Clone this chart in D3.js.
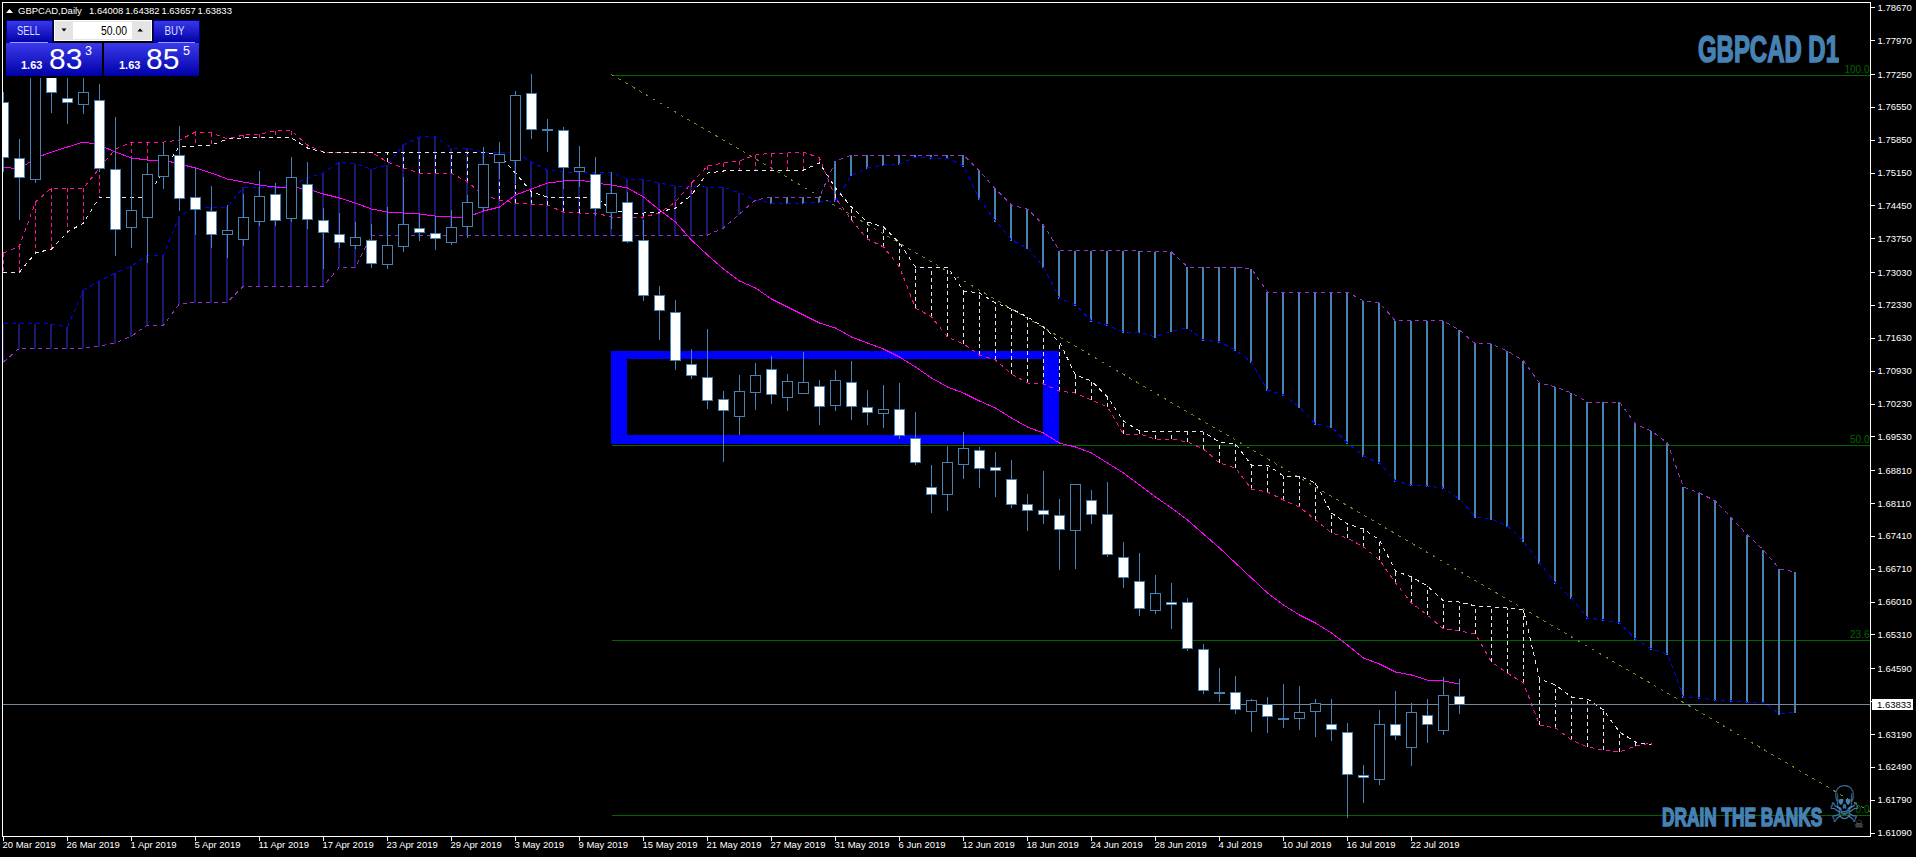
<!DOCTYPE html>
<html>
<head>
<meta charset="utf-8">
<title>GBPCAD D1</title>
<script src="https://cdnjs.cloudflare.com/ajax/libs/d3/7.9.0/d3.min.js"></script>
<style>
  html, body { margin: 0; padding: 0; background: #000; overflow: hidden; }
  svg { display: block; }
  text { font-family: "Liberation Sans", Arial, sans-serif; }
</style>
</head>
<body>
<div id="chart"></div>
<script>
/* DATA */
const dateLabels = ["20 Mar 2019","26 Mar 2019","1 Apr 2019","5 Apr 2019","11 Apr 2019","17 Apr 2019","23 Apr 2019","29 Apr 2019","3 May 2019","9 May 2019","15 May 2019","21 May 2019","27 May 2019","31 May 2019","6 Jun 2019","12 Jun 2019","18 Jun 2019","24 Jun 2019","28 Jun 2019","4 Jul 2019","10 Jul 2019","16 Jul 2019","22 Jul 2019"];
const priceTicks = [1.78670,1.77970,1.77250,1.76550,1.75850,1.75150,1.74450,1.73750,1.73030,1.72330,1.71630,1.70930,1.70230,1.69530,1.68810,1.68110,1.67410,1.66710,1.66010,1.65310,1.64590,1.63890,1.63190,1.62490,1.61790,1.61090];

const highs = [1.76877,1.75876,1.77665,1.77346,1.77303,1.77303,1.77048,1.76345,1.75471,1.75364,1.75790,1.76153,1.75279,1.74874,1.74469,1.74704,1.75194,1.74938,1.75492,1.75385,1.74406,1.74299,1.74107,1.74065,1.74427,1.75066,1.74278,1.74235,1.74363,1.74682,1.75705,1.75811,1.76899,1.77261,1.76302,1.76132,1.75726,1.75492,1.75172,1.74746,1.74150,1.72744,1.72446,1.71402,1.71828,1.70507,1.70848,1.71104,1.71253,1.70870,1.71338,1.70742,1.70955,1.71147,1.70528,1.70635,1.70678,1.70059,1.68930,1.69335,1.69633,1.69314,1.69207,1.69037,1.68313,1.68803,1.68206,1.68526,1.68398,1.68568,1.67290,1.67056,1.66587,1.66417,1.66098,1.65117,1.64606,1.64435,1.63945,1.63988,1.64265,1.64222,1.63945,1.63945,1.63434,1.62539,1.63711,1.64116,1.63860,1.63945,1.64414,1.64382];
const opens = [1.76664,1.75471,1.75023,1.77218,1.76750,1.76622,1.76707,1.75236,1.74001,1.74214,1.75087,1.75534,1.74640,1.74342,1.73852,1.73745,1.74129,1.74704,1.74193,1.74917,1.74150,1.73852,1.73617,1.73724,1.73213,1.73596,1.73980,1.73873,1.73681,1.74022,1.74427,1.75385,1.75428,1.76856,1.76089,1.76068,1.75194,1.75130,1.74320,1.74533,1.73724,1.72552,1.72190,1.71083,1.70806,1.70336,1.69974,1.70485,1.70976,1.70379,1.70464,1.70614,1.70208,1.70699,1.70166,1.70038,1.70123,1.69506,1.68462,1.68313,1.68952,1.69250,1.68888,1.68632,1.68100,1.67972,1.67865,1.67546,1.68185,1.67887,1.66971,1.66460,1.65842,1.66012,1.66012,1.65010,1.64094,1.64094,1.63690,1.63839,1.63541,1.63541,1.63690,1.63413,1.63242,1.62326,1.62241,1.63413,1.62923,1.63604,1.63285,1.64008];
const closes = [1.75492,1.75066,1.77389,1.76877,1.76664,1.76877,1.75258,1.73958,1.74363,1.75130,1.75534,1.74619,1.74384,1.73852,1.73937,1.74214,1.74661,1.74150,1.75066,1.74171,1.73894,1.73681,1.73788,1.73234,1.73617,1.74065,1.73894,1.73767,1.74001,1.74533,1.75343,1.75556,1.76813,1.76089,1.76068,1.75279,1.75279,1.74406,1.74725,1.73703,1.72552,1.72233,1.71168,1.70848,1.70315,1.70102,1.70507,1.70848,1.70443,1.70721,1.70699,1.70187,1.70742,1.70187,1.70059,1.70123,1.69569,1.68994,1.68313,1.68994,1.69293,1.68867,1.68824,1.68100,1.67972,1.67887,1.67567,1.68526,1.67887,1.67035,1.66545,1.65885,1.66204,1.65970,1.65032,1.64137,1.64094,1.63732,1.63924,1.63583,1.63541,1.63668,1.63860,1.63306,1.62348,1.62284,1.63413,1.63178,1.63668,1.63413,1.64030,1.63833];
const lows = [1.75194,1.74171,1.74959,1.76451,1.76217,1.76430,1.75194,1.73404,1.73575,1.73255,1.74832,1.74363,1.73852,1.73575,1.73362,1.73617,1.74043,1.74043,1.74129,1.73980,1.73128,1.73575,1.73554,1.73149,1.73128,1.73490,1.73724,1.73532,1.73639,1.73788,1.74363,1.75045,1.74938,1.75898,1.75620,1.74832,1.74874,1.74256,1.73980,1.73681,1.72446,1.71615,1.70976,1.70785,1.70145,1.69016,1.69591,1.70123,1.70251,1.70102,1.70464,1.69804,1.70102,1.69910,1.69804,1.69740,1.69506,1.68952,1.67929,1.67972,1.68654,1.68462,1.68270,1.68036,1.67546,1.67695,1.66715,1.66737,1.67695,1.66992,1.66332,1.65735,1.65778,1.65459,1.64989,1.64073,1.63903,1.63647,1.63264,1.63242,1.63349,1.63306,1.63157,1.63072,1.61432,1.61751,1.62135,1.63093,1.62539,1.63029,1.63200,1.63657];

// solid magenta average
const maLine = [1.75279,1.75236,1.75471,1.75598,1.75705,1.75811,1.75747,1.75598,1.75471,1.75428,1.75428,1.75343,1.75258,1.75151,1.75023,1.74959,1.74895,1.74853,1.74853,1.74810,1.74704,1.74619,1.74512,1.74384,1.74320,1.74299,1.74278,1.74235,1.74214,1.74214,1.74342,1.74427,1.74682,1.74810,1.74938,1.74981,1.75002,1.74938,1.74895,1.74832,1.74640,1.74363,1.74107,1.73724,1.73404,1.73106,1.72851,1.72702,1.72467,1.72297,1.72126,1.71956,1.71850,1.71658,1.71530,1.71402,1.71232,1.71019,1.70785,1.70593,1.70464,1.70294,1.70145,1.69932,1.69740,1.69612,1.69399,1.69314,1.69186,1.68973,1.68760,1.68504,1.68249,1.68015,1.67759,1.67461,1.67163,1.66843,1.66524,1.66204,1.65948,1.65735,1.65565,1.65352,1.65095,1.64819,1.64691,1.64520,1.64457,1.64350,1.64329,1.64265];

// inner cloud (pink / white edges)
const pinkLine = [1.73447,1.73596,1.74533,1.74832,1.74832,1.74832,1.75258,1.75662,1.75811,1.75811,1.75811,1.75854,1.76025,1.76004,1.75876,1.75961,1.75983,1.76047,1.76047,1.75747,1.75598,1.75598,1.75598,1.75598,1.75385,1.75258,1.75151,1.75151,1.75151,1.74959,1.74682,1.74576,1.74512,1.74491,1.74469,1.74320,1.74299,1.74299,1.74214,1.74214,1.74214,1.74299,1.74533,1.74938,1.75300,1.75364,1.75407,1.75534,1.75577,1.75577,1.75598,1.75471,1.74619,1.74150,1.73745,1.73575,1.73149,1.72276,1.72084,1.71658,1.71509,1.71274,1.71168,1.70870,1.70678,1.70657,1.70507,1.70464,1.70315,1.70166,1.69591,1.69591,1.69484,1.69484,1.69420,1.69271,1.68973,1.68867,1.68419,1.68355,1.68185,1.68036,1.67759,1.67482,1.67376,1.67184,1.66907,1.66417,1.65991,1.65735,1.65437,1.65395,1.65331,1.64733,1.64499,1.64286,1.63391,1.63328,1.63072,1.62923,1.62859,1.62816,1.62944,1.63008];
const whiteLine = [1.73021,1.73042,1.73447,1.73532,1.73894,1.74086,1.74640,1.74640,1.74640,1.74640,1.75215,1.75726,1.75726,1.75747,1.75876,1.75898,1.75898,1.75898,1.75898,1.75683,1.75598,1.75598,1.75598,1.75598,1.75598,1.75598,1.75598,1.75598,1.75598,1.75598,1.75598,1.75534,1.75151,1.74746,1.74640,1.74640,1.74640,1.74640,1.74363,1.74299,1.74299,1.74320,1.74406,1.74682,1.75151,1.75194,1.75215,1.75215,1.75215,1.75215,1.75215,1.75364,1.74832,1.74427,1.74107,1.74001,1.73660,1.73149,1.73149,1.73149,1.72638,1.72595,1.72382,1.72254,1.72084,1.71871,1.71551,1.70848,1.70721,1.70379,1.69868,1.69655,1.69655,1.69655,1.69655,1.69633,1.69420,1.69378,1.68930,1.68930,1.68696,1.68696,1.68547,1.67908,1.67674,1.67567,1.67333,1.66673,1.66545,1.66353,1.66034,1.66012,1.65927,1.65906,1.65885,1.65842,1.64371,1.64243,1.63988,1.63945,1.63711,1.63242,1.63029,1.62965];

// outer cloud (blue / purple edges)
const blueLine = [1.71935,1.71935,1.71935,1.71935,1.71871,1.72659,1.72851,1.73021,1.73170,1.73404,1.73404,1.74235,1.74427,1.74427,1.74427,1.74853,1.74853,1.74853,1.74895,1.75045,1.75151,1.75385,1.75343,1.75236,1.75321,1.75747,1.75919,1.75919,1.75683,1.75683,1.75598,1.75598,1.75598,1.75385,1.75215,1.75172,1.75172,1.75172,1.75172,1.75023,1.75023,1.74938,1.74874,1.74874,1.74853,1.74853,1.74725,1.74576,1.74512,1.74512,1.74512,1.74533,1.74555,1.75108,1.75258,1.75321,1.75343,1.75492,1.75471,1.75471,1.75300,1.74597,1.74129,1.73724,1.73554,1.73149,1.72489,1.72339,1.71999,1.71913,1.71764,1.71764,1.71658,1.71786,1.71850,1.71594,1.71551,1.71381,1.71125,1.70528,1.70422,1.70166,1.69804,1.69740,1.69399,1.69122,1.68973,1.68590,1.68504,1.68483,1.68440,1.68206,1.67823,1.67780,1.67631,1.67312,1.66843,1.66417,1.66098,1.65671,1.65629,1.65565,1.65224,1.65010,1.64904,1.63988,1.63967,1.63924,1.63903,1.63881,1.63881,1.63626,1.63668];
const purpleLine = [1.71125,1.71423,1.71423,1.71423,1.71423,1.71423,1.71466,1.71530,1.71679,1.71913,1.71913,1.72361,1.72403,1.72403,1.72403,1.72744,1.72744,1.72744,1.72744,1.72744,1.72744,1.73149,1.73149,1.73830,1.73830,1.73830,1.73830,1.73830,1.73830,1.73830,1.73830,1.73830,1.73830,1.73830,1.73830,1.73830,1.73830,1.73830,1.73830,1.73830,1.73830,1.73830,1.73830,1.73830,1.73830,1.73980,1.74278,1.74576,1.74640,1.74640,1.74640,1.74640,1.75407,1.75534,1.75534,1.75534,1.75534,1.75534,1.75534,1.75534,1.75534,1.75194,1.74810,1.74469,1.74384,1.74043,1.73490,1.73490,1.73490,1.73490,1.73490,1.73490,1.73469,1.73469,1.73149,1.73149,1.73149,1.73149,1.73106,1.72616,1.72616,1.72616,1.72616,1.72616,1.72616,1.72425,1.72382,1.71999,1.71999,1.71999,1.71999,1.71807,1.71509,1.71509,1.71360,1.71147,1.70678,1.70593,1.70464,1.70272,1.70272,1.70272,1.69804,1.69655,1.69399,1.68462,1.68334,1.68164,1.67801,1.67439,1.67120,1.66715,1.66651];

// fibonacci retracement and the blue zone (bar index, price)
const fibBars = [38, 117];
const fibPrices = [1.77250, 1.61474];
const fibLevels = [100, 50, 23.6, 0];
const zoneBars = [38, 66];
const zonePrices = [1.71360, 1.69378];

const bid = ["1.63", "83", "3"];
const ask = ["1.63", "85", "5"];
const lotSize = "50.00";
const headerText = "GBPCAD,Daily";
const headerOhlc = ["1.64008", "1.64382", "1.63657", "1.63833"];
const lastPrice = 1.63833;
/* END DATA */

const W = 1916, H = 857;
const frame = { left: 2.5, top: 2.5, right: 1870.5, bottom: 836.5 };
const steel = "#4682b4", navy = "#191970";

const svg = d3.select("#chart").append("svg").attr("width", W).attr("height", H);
svg.append("rect").attr("width", W).attr("height", H).attr("fill", "#000");

const defs = svg.append("defs");
defs.append("clipPath").attr("id", "plot").append("rect")
  .attr("x", frame.left).attr("y", frame.top)
  .attr("width", frame.right - frame.left).attr("height", frame.bottom - frame.top);

const grad = defs.append("linearGradient").attr("id", "btn").attr("x1", 0).attr("x2", 0).attr("y1", 0).attr("y2", 1);
grad.append("stop").attr("offset", "0%").attr("stop-color", "#3a3aec");
grad.append("stop").attr("offset", "100%").attr("stop-color", "#0000a8");

// Scales: one bar is 16px
const x = d3.scaleLinear().domain([0, 100]).range([3.5, 1603.5]);
const y = d3.scaleLinear().domain([1.7725, lastPrice]).range([74.5, 704.3]);
const px = v => Math.round(y(v));

const g = svg.append("g").attr("clip-path", "url(#plot)").attr("shape-rendering", "crispEdges");

// Blue zone
const zx0 = x(zoneBars[0]) - 0.5, zx1 = x(zoneBars[1]) - 0.5;
const zy0 = px(zonePrices[0]), zy1 = px(zonePrices[1]);
g.append("path")
  .attr("fill", "#0000ff").attr("fill-rule", "evenodd")
  .attr("d", `M${zx0},${zy0}H${zx1}V${zy1}H${zx0}Z M${zx0 + 16},${zy0 + 8}H${zx1 - 16}V${zy1 - 9}H${zx0 + 16}Z`);

// Fibo levels
const fibPrice = l => fibPrices[1] + (fibPrices[0] - fibPrices[1]) * l / 100;
g.selectAll(".fib").data(fibLevels).enter().append("line")
  .attr("x1", x(fibBars[0])).attr("x2", frame.right)
  .attr("y1", d => px(fibPrice(d)) + 0.5).attr("y2", d => px(fibPrice(d)) + 0.5)
  .attr("stroke", "#006400");
g.append("line")
  .attr("x1", x(fibBars[0])).attr("y1", y(fibPrices[0]))
  .attr("x2", x(fibBars[1])).attr("y2", y(fibPrices[1]))
  .attr("stroke", "#6b8e23").attr("stroke-dasharray", "3 5");

// Outer cloud bars
g.selectAll(".outer").data(blueLine).enter().append("rect")
  .attr("x", (d, i) => x(i) - 1.5)
  .attr("width", 2)
  .attr("y", (d, i) => Math.min(px(d), px(purpleLine[i])))
  .attr("height", (d, i) => Math.abs(px(d) - px(purpleLine[i])) + 1)
  .attr("fill", (d, i) => d > purpleLine[i] ? navy : steel);

// Inner cloud hatch
g.selectAll(".inner").data(pinkLine).enter().append("line")
  .attr("x1", (d, i) => x(i)).attr("x2", (d, i) => x(i))
  .attr("y1", d => y(d))
  .attr("y2", (d, i) => y(whiteLine[i]))
  .attr("stroke", (d, i) => d > whiteLine[i] ? "#ff1493" : "#e6e6e6")
  .attr("stroke-dasharray", "4 3");

// Indicator lines
const line = d3.line().x((d, i) => x(i)).y(d => y(d));
function drawLine(values, color, dash) {
  g.append("path").datum(values)
    .attr("fill", "none").attr("stroke", color).attr("stroke-width", 1)
    .attr("stroke-dasharray", dash)
    .attr("d", line);
}
drawLine(blueLine, "#0000ff", "4 4");
drawLine(purpleLine, "#9932cc", "4 4");
drawLine(pinkLine, "#ff1493", "4 4");
drawLine(whiteLine, "#e6e6e6", "4 4");
drawLine(maLine, "#ff00ff", null);

// Last price line
g.append("line")
  .attr("x1", frame.left).attr("x2", frame.right)
  .attr("y1", px(lastPrice) + 0.5).attr("y2", px(lastPrice) + 0.5)
  .attr("stroke", "#778899");

// Candles
const candles = g.selectAll(".candle").data(opens).enter().append("g");
candles.append("line")
  .attr("x1", (d, i) => x(i)).attr("x2", (d, i) => x(i))
  .attr("y1", (d, i) => px(highs[i]))
  .attr("y2", (d, i) => px(lows[i]) + 1)
  .attr("stroke", steel);
candles.append("rect")
  .attr("x", (d, i) => x(i) - 5)
  .attr("width", 10)
  .attr("y", (d, i) => Math.min(px(d), px(closes[i])) + 0.5)
  .attr("height", (d, i) => Math.max(Math.abs(px(d) - px(closes[i])), 1))
  .attr("fill", (d, i) => closes[i] < d ? "#fff" : "#000")
  .attr("stroke", steel);

// Axes
const frameG = svg.append("g").attr("shape-rendering", "crispEdges");
frameG.append("rect")
  .attr("x", frame.left).attr("y", frame.top)
  .attr("width", frame.right - frame.left).attr("height", frame.bottom - frame.top)
  .attr("fill", "none").attr("stroke", "#fff");

const axisY = svg.append("g")
  .attr("transform", `translate(${frame.right},0)`)
  .call(d3.axisRight(y).tickValues(priceTicks).tickFormat(d3.format(".5f")).tickSize(4).tickPadding(3).offset(0));
axisY.select(".domain").remove();

const axisX = svg.append("g")
  .attr("transform", `translate(0,${frame.bottom})`)
  .call(d3.axisBottom(x).tickValues(dateLabels.map((d, i) => i * 4)).tickFormat(i => dateLabels[i / 4]).tickSize(4).tickPadding(1).offset(0));
axisX.select(".domain").remove();
axisX.selectAll("text").attr("text-anchor", "start").attr("dx", "-1");

[axisY, axisX].forEach(a => {
  a.selectAll("line").attr("stroke", "#fff").attr("shape-rendering", "crispEdges");
  a.selectAll("text").attr("fill", "#fff").style("font-size", "9.5px").style("font-family", '"Liberation Sans"');
});

// Fibo labels
svg.selectAll(".fibLabel").data(fibLevels).enter().append("text")
  .attr("x", frame.right - 1).attr("y", d => px(fibPrice(d)) - 2)
  .attr("text-anchor", "end").attr("fill", "#006400")
  .style("font-size", "10px")
  .text(d => d.toFixed(1));

// Last price box
const lastBox = svg.append("g");
lastBox.append("rect")
  .attr("x", 1872).attr("y", px(lastPrice) - 5).attr("width", 41).attr("height", 11)
  .attr("fill", "#fff").attr("shape-rendering", "crispEdges");
lastBox.append("text")
  .attr("x", 1877).attr("y", px(lastPrice) + 3.5)
  .attr("fill", "#000").style("font-size", "9.5px")
  .text(d3.format(".5f")(lastPrice));

// Watermarks, squeezed sideways to look like the heavy poster font
function heavyText(txt, xPos, yPos, size, scaleX) {
  svg.append("text")
    .attr("transform", `translate(${xPos},${yPos}) scale(${scaleX},1)`)
    .attr("fill", steel).attr("stroke", steel).attr("stroke-width", 1.6)
    .style("font-size", size + "px").style("font-weight", "700")
    .text(txt);
}
heavyText("GBPCAD D1", 1698, 61.5, 36, 0.665);
heavyText("DRAIN THE BANKS", 1662, 825.5, 26, 0.665);
svg.append("text")
  .attr("transform", "translate(1844.5,822) scale(0.85,1.2)")
  .attr("text-anchor", "middle")
  .attr("fill", steel)
  .style("font-family", '"DejaVu Sans"').style("font-size", "42px")
  .text("\u2620");
svg.append("text")
  .attr("x", 1859).attr("y", 828).attr("text-anchor", "middle")
  .attr("fill", "#808080")
  .style("font-family", '"DejaVu Sans"').style("font-size", "11px")
  .text("\u2620");

// Header
const header = svg.append("g");
header.append("rect").attr("x", 4).attr("y", 4).attr("width", 230).attr("height", 14).attr("fill", "#000");
header.append("path").attr("d", "M6,13L13,13L9.5,9Z").attr("fill", "#fff");
header.append("text").attr("x", 18).attr("y", 13.5).attr("fill", "#fff").style("font-size", "9.5px").text(headerText);
header.selectAll(".ohlc").data(headerOhlc).enter().append("text")
  .attr("x", (d, i) => 89 + i * 36.2).attr("y", 13.5)
  .attr("fill", "#fff").style("font-size", "9.5px")
  .text(d => d);

// Trade panel
const panel = svg.append("g");
panel.append("rect").attr("x", 4).attr("y", 18).attr("width", 198).attr("height", 60).attr("fill", "#000");

function tradeButton(x0, width, label, labelX) {
  panel.append("rect").attr("x", x0).attr("y", 20).attr("width", width).attr("height", 23)
    .attr("fill", "url(#btn)").attr("stroke", "#00008c").attr("shape-rendering", "crispEdges");
  panel.append("line").attr("x1", x0 + 4).attr("x2", x0 + width - 4).attr("y1", 42.5).attr("y2", 42.5)
    .attr("stroke", "#9a9aff").attr("shape-rendering", "crispEdges");
  panel.append("text").attr("x", labelX).attr("y", 35)
    .attr("textLength", label.length === 4 ? 23 : 20).attr("lengthAdjust", "spacingAndGlyphs")
    .attr("fill", "#dcdcff").style("font-size", "12.5px")
    .text(label);
}
tradeButton(6, 46, "SELL", 17);
tradeButton(153.5, 45.5, "BUY", 164.5);

// lot box
panel.append("rect").attr("x", 54.5).attr("y", 20.5).attr("width", 97).attr("height", 20)
  .attr("fill", "#e4e4e4").attr("stroke", "#fff").attr("shape-rendering", "crispEdges");
panel.append("rect").attr("x", 73).attr("y", 22).attr("width", 59).attr("height", 17)
  .attr("fill", "#fff").attr("shape-rendering", "crispEdges");
panel.append("path").attr("d", "M61.5,28.5H66.5L64,31.5Z").attr("fill", "#000");
panel.append("path").attr("d", "M137.5,31.5H143L140,28.5Z").attr("fill", "#000");
panel.append("text").attr("x", 101).attr("y", 34.5)
  .attr("textLength", 26).attr("lengthAdjust", "spacingAndGlyphs")
  .attr("fill", "#000").style("font-size", "12.5px")
  .text(lotSize);

function quoteBox(x0, width, q, xs) {
  panel.append("rect").attr("x", x0).attr("y", 43).attr("width", width).attr("height", 33)
    .attr("fill", "url(#btn)").attr("shape-rendering", "crispEdges");
  panel.append("text").attr("x", xs[0]).attr("y", 69).attr("fill", "#fff")
    .style("font-size", "11px").style("font-weight", "700").text(q[0]);
  panel.append("text").attr("x", xs[1]).attr("y", 69).attr("fill", "#fff")
    .style("font-size", "30px").text(q[1]);
  panel.append("text").attr("x", xs[2]).attr("y", 55).attr("fill", "#fff")
    .style("font-size", "12.5px").text(q[2]);
}
quoteBox(6, 96, bid, [21, 49, 85]);
quoteBox(104, 95, ask, [119, 146, 183]);
</script>
</body>
</html>
